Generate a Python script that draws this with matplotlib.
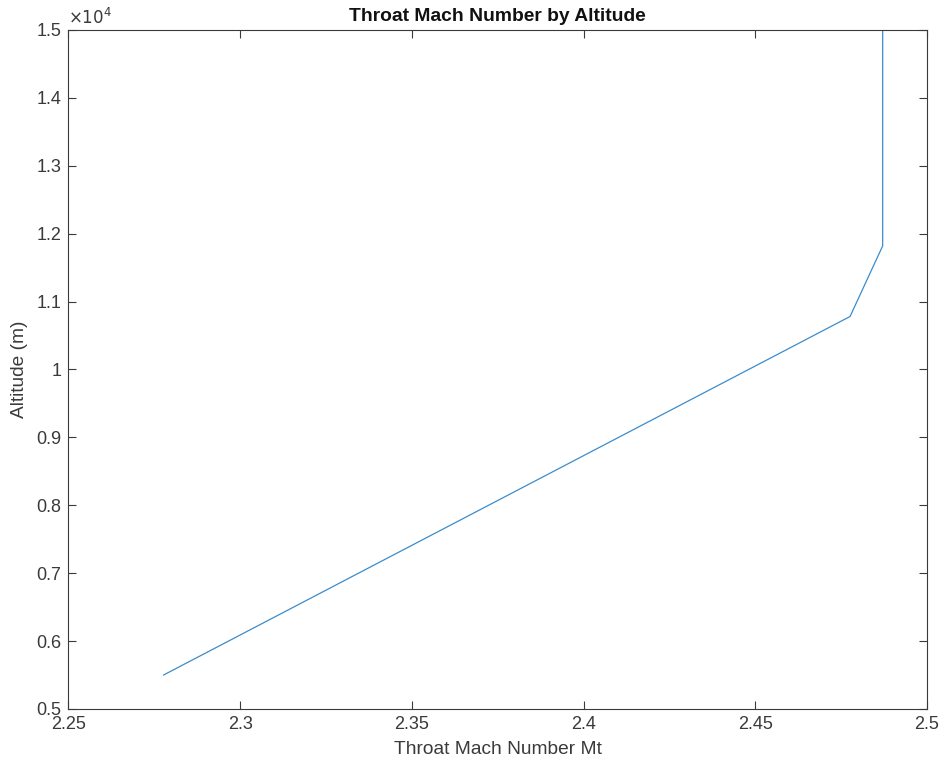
import matplotlib.pyplot as plt
from matplotlib.ticker import FuncFormatter, MultipleLocator

# throat Mach number vs altitude
mach = [2.2777, 2.4776, 2.4871, 2.4871]
altitude = [5500, 10780, 11820, 15000]

plt.rcParams['font.family'] = ['Liberation Sans', 'DejaVu Sans']

fig = plt.figure(figsize=(9.43, 7.67), dpi=100)
ax = fig.add_axes([0.0726, 0.0757, 0.9104, 0.8852])

ax.plot(mach, altitude, color='#3b8ccc', lw=0.9)

ax.set_xlim(2.25, 2.5)
ax.set_ylim(5000, 15000)
ax.xaxis.set_major_locator(MultipleLocator(0.05))
ax.yaxis.set_major_locator(MultipleLocator(1000))
ax.xaxis.set_major_formatter(FuncFormatter(lambda v, p: ('%.2f' % v).rstrip('0').rstrip('.')))
ax.yaxis.set_major_formatter(FuncFormatter(lambda v, p: ('%.1f' % (v / 1e4)).rstrip('0').rstrip('.')))

gray = '#3a3a3a'
for s in ax.spines.values():
    s.set_color(gray)
    s.set_linewidth(0.8)
ax.tick_params(direction='in', top=True, right=True, length=6, width=0.8,
               color=gray, labelcolor=gray, labelsize=13, pad=5)

ax.set_xlabel('Throat Mach Number Mt', fontsize=13.8, color=gray, labelpad=6)
ax.set_ylabel('Altitude (m)', fontsize=13.8, color=gray, labelpad=6)
ax.set_title('Throat Mach Number by Altitude', fontsize=13.9, fontweight='bold',
             color='#111111', pad=6.5)
ax.text(0.0, 1.005, r'$\times10^{4}$', transform=ax.transAxes, fontsize=12,
        color=gray, ha='left', va='bottom')

fig.savefig('out.png', dpi=100)
